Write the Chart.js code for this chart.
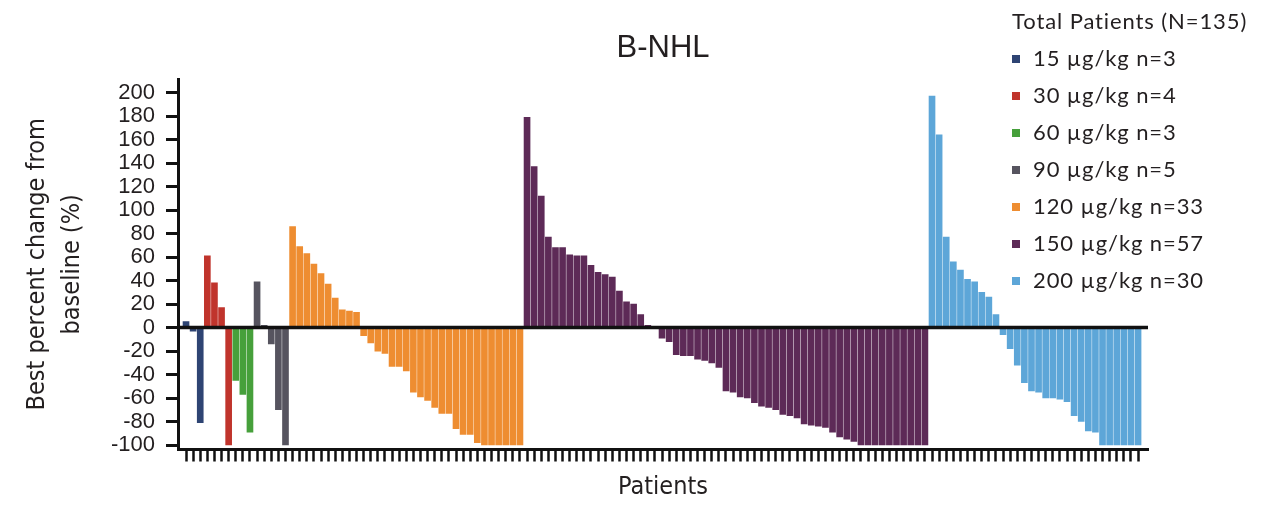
<!DOCTYPE html>
<html>
<head>
<meta charset="utf-8">
<title>B-NHL best percent change from baseline</title>
<script src="https://cdn.jsdelivr.net/npm/chart.js@4.4.1/dist/chart.umd.min.js"></script>
<style>
  body { margin: 0; background: #fff; }
  #wrap { position: relative; width: 1276px; height: 506px; }
  #legend {
    position: absolute; left: 1012px; top: 2px;
    font-family: Lato, 'Noto Sans', sans-serif; font-size: 22px; letter-spacing: 0.9px; color: #231f20;
  }
  #legend div { height: 37px; line-height: 37px; white-space: nowrap; }
  #legend .sw { display: inline-block; width: 8px; height: 8px; margin-right: 13px; vertical-align: middle; position: relative; top: -1px; }
</style>
</head>
<body>
<div id="wrap">
  <canvas id="chart" width="1276" height="506"></canvas>
  <div id="legend"></div>
</div>
<script>
// dose cohorts (µg/kg) and their colours
const doses = ['15', '30', '60', '90', '120', '150', '200'];
const doseColors = ['#2e4473', '#c0342c', '#46a03b', '#56545f', '#ee8d31', '#5d2a57', '#5da6d8'];

// best percent change from baseline, one value per patient, in plotted order
const dose15 = [5, -3, -81];
const dose30 = [61, 38, 17, -100];
const dose60 = [-45, -57, -89];
const dose90 = [39, 2, -14, -70, -100];
const dose120 = [86, 69, 63, 54, 46, 37, 25, 15, 14, 13,
  -7, -13, -20, -22, -33, -33, -37, -55, -59, -62, -68, -73, -73,
  -86, -91, -91, -98, -100, -100, -100, -100, -100, -100];
const dose150 = [179, 137, 112, 77, 68, 68, 62, 61, 61, 53, 47, 45, 43, 31, 22, 20, 11, 2, 0,
  -9, -12, -23, -24, -24, -27, -28, -30, -34,
  -54, -55, -59, -60, -64, -67, -68, -70, -74, -75, -77, -82, -83, -84, -85, -89, -93, -95, -97,
  -100, -100, -100, -100, -100, -100, -100, -100, -100, -100];
const dose200 = [197, 164, 77, 56, 49, 41, 39, 30, 26, 11,
  -6, -18, -32, -47, -54, -55, -60, -60, -61, -63, -75, -80, -88, -89,
  -100, -100, -100, -100, -100, -100];

const cohorts = [dose15, dose30, dose60, dose90, dose120, dose150, dose200];
const yTicks = [-100, -80, -60, -40, -20, 0, 20, 40, 60, 80, 100, 120, 140, 160, 180, 200];

// one dataset per cohort, patients numbered left to right
const datasets = [];
let patientCount = 0;
cohorts.forEach((vals, g) => {
  const first = patientCount;
  datasets.push({
    label: doses[g] + ' µg/kg n=' + vals.length,
    data: vals.map((v, i) => ({ x: first + i, y: v })),
    backgroundColor: doseColors[g],
    borderWidth: 0,
    barThickness: 6,
    grouped: false
  });
  patientCount += vals.length;
});

// legend block at the top right
const legendEl = document.getElementById('legend');
legendEl.innerHTML = '<div>Total Patients (N=' + patientCount + ')</div>' +
  datasets.map(ds => '<div><span class="sw" style="background:' + ds.backgroundColor + '"></span>' + ds.label + '</div>').join('');

// heavy zero line drawn over the bars
const zeroLine = {
  id: 'zeroLine',
  afterDatasetsDraw(chart) {
    const { ctx, chartArea, scales } = chart;
    const py = scales.y.getPixelForValue(0);
    ctx.save();
    ctx.strokeStyle = '#111';
    ctx.lineWidth = 3.5;
    ctx.beginPath();
    ctx.moveTo(chartArea.left - 1, py);
    ctx.lineTo(chartArea.right, py);
    ctx.stroke();
    ctx.restore();
  }
};

const textColor = '#231f20';
const narrowFont = "'Liberation Sans Narrow', 'DejaVu Sans Condensed', sans-serif";

new Chart(document.getElementById('chart'), {
  type: 'bar',
  data: { datasets },
  plugins: [zeroLine],
  options: {
    responsive: false,
    animation: false,
    layout: { padding: { top: 0, left: 0, right: 128, bottom: 0 } },
    plugins: {
      legend: { display: false },
      tooltip: { enabled: false },
      title: {
        display: true,
        text: 'B-NHL',
        fullSize: false,
        color: textColor,
        font: { family: "'Liberation Sans', Arial, sans-serif", size: 31, weight: 'normal', lineHeight: 1.2 },
        padding: { top: 30, bottom: 12 }
      }
    },
    scales: {
      x: {
        type: 'linear',
        min: -1.13,
        max: 135.4,
        offset: false,
        afterBuildTicks: s => { s.ticks = datasets.flatMap(ds => ds.data.map(p => ({ value: p.x }))); },
        afterFit: s => { s.height = 56.5; },
        grid: { offset: false, drawOnChartArea: false, drawTicks: true, tickLength: 12, tickWidth: 2.5, tickColor: '#111' },
        border: { color: '#111', width: 3 },
        ticks: { display: false },
        title: {
          display: true,
          text: 'Patients',
          color: textColor,
          font: { family: narrowFont, size: 25, lineHeight: 1.2 },
          padding: { top: 0, bottom: 4 }
        }
      },
      y: {
        min: -103.8,
        max: 211.4,
        afterBuildTicks: s => { s.ticks = yTicks.map(v => ({ value: v })); },
        afterFit: s => { s.width = 178; },
        grid: { drawOnChartArea: false, drawTicks: true, tickLength: 12, tickWidth: 3, tickColor: '#111' },
        border: { color: '#111', width: 3 },
        ticks: {
          autoSkip: false,
          color: textColor,
          padding: 11,
          font: { family: "'Liberation Sans', Arial, sans-serif", size: 22 }
        },
        title: {
          display: true,
          text: ['Best percent change from', 'baseline (%)'],
          color: textColor,
          font: { family: narrowFont, size: 25, lineHeight: 35 / 25 },
          padding: { top: 19.5, bottom: 0 }
        }
      }
    }
  }
});
</script>
</body>
</html>
